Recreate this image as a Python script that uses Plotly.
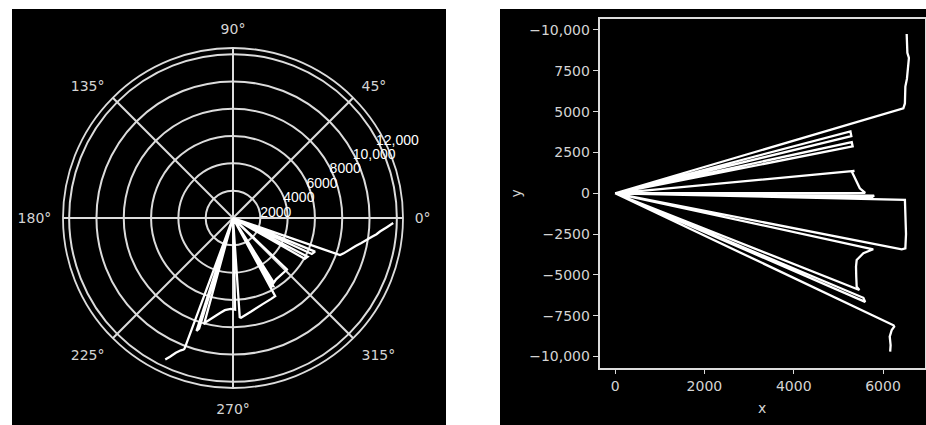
import numpy as np
import plotly.graph_objects as go

# Range-scan outline in the vehicle frame (x forward, y left); 0,0 entries are dropouts
scan_x = [6160, 6170, 6150, 6195, 6250, 6235, 0,
          5600, 5560, 0,
          5470, 5410, 5400, 5395, 5410, 5560, 5780, 0,
          6420, 6500, 6515, 6500, 6505, 6490, 0,
          5800, 5760, 0,
          5600, 5480, 5300, 5360, 0,
          5320, 5300, 0,
          5290, 5270, 0,
          6455, 6490, 6500, 6535, 6560, 6580, 6545, 6540, 6530]
scan_y = [-9700, -9300, -8780, -8370, -8170, -8080, 0,
          -6650, -6400, 0,
          -5920, -5720, -5100, -4490, -4085, -3675, -3430, 0,
          -3430, -3370, -2500, -1500, -800, -410, 0,
          -140, -220, 0,
          20, 300, 1330, 1370, 0,
          2870, 3130, 0,
          3500, 3790, 0,
          5205, 5500, 6530, 7000, 7900, 8285, 8600, 9200, 9755]

# Sensor bearing offset used for the polar view
SENSOR_YAW_DEG = -58

angle_ticks = [0, 45, 90, 135, 180, 225, 270, 315]
angle_labels = ["0°", "45°", "90°", "135°", "180°", "225°", "270°", "315°"]
radial_ticks = [2000, 4000, 6000, 8000, 10000, 12000]
radial_labels = ["2000", "4000", "6000", "8000", "10,000", "12,000"]
x_ticks = [0, 2000, 4000, 6000]
x_labels = ["0", "2000", "4000", "6000"]
y_ticks = [10000, 7500, 5000, 2500, 0, -2500, -5000, -7500, -10000]
y_labels = ["−10,000", "7500", "5000", "2500", "0", "−2500", "−5000", "−7500", "−10,000"]

xs = np.array(scan_x, dtype=float)
ys = np.array(scan_y, dtype=float)
rng = np.hypot(xs, ys)
bearing = np.degrees(np.arctan2(ys, xs)) + SENSOR_YAW_DEG

W, H = 926, 425
GRID = "#dcdcdc"
LABEL = "#d4d4d4"
RADIAL_ANGLE = 32

fig = go.Figure()
fig.add_trace(go.Scatterpolar(r=rng, theta=bearing, mode="lines",
                              line=dict(color="white", width=2.3),
                              showlegend=False, hoverinfo="skip"))
fig.add_trace(go.Scatter(x=xs, y=ys, mode="lines",
                         line=dict(color="white", width=2.3),
                         showlegend=False, hoverinfo="skip"))

fig.update_layout(
    width=W, height=H,
    margin=dict(l=0, r=0, t=0, b=0),
    paper_bgcolor="white",
    plot_bgcolor="black",
    font=dict(family="DejaVu Sans", size=14, color=LABEL),
    shapes=[
        dict(type="rect", xref="paper", yref="paper", layer="below",
             x0=12 / W, x1=446 / W, y0=0, y1=1 - 9 / H,
             fillcolor="black", line=dict(width=0)),
        dict(type="rect", xref="paper", yref="paper", layer="below",
             x0=500 / W, x1=1, y0=0, y1=1 - 9 / H,
             fillcolor="black", line=dict(width=0)),
    ],
    polar=dict(
        domain=dict(x=[63 / W, 403 / W], y=[1 - 388 / H, 1 - 48 / H]),
        bgcolor="black",
        angularaxis=dict(
            tickmode="array", tickvals=angle_ticks, ticktext=angle_labels,
            direction="counterclockwise", rotation=0,
            showgrid=True, gridcolor=GRID, gridwidth=1.6,
            showline=True, linecolor=GRID, linewidth=1.8,
            ticks="outside", ticklen=8, tickcolor="rgba(0,0,0,0)",
            tickfont=dict(family="DejaVu Sans", size=14, color=LABEL),
        ),
        radialaxis=dict(
            range=[0, 12450], angle=RADIAL_ANGLE, side="clockwise",
            tickangle=RADIAL_ANGLE,
            tickmode="array", tickvals=radial_ticks, ticktext=radial_labels,
            showgrid=True, gridcolor=GRID, gridwidth=1.6,
            showline=False, ticks="",
            tickfont=dict(family="Liberation Sans", size=14, color="white"),
        ),
    ),
    xaxis=dict(
        domain=[599.5 / W, 925 / W], range=[-350, 6940],
        tickmode="array", tickvals=x_ticks, ticktext=x_labels,
        showgrid=False, zeroline=False,
        showline=True, linecolor=GRID, linewidth=1.5, mirror=True,
        ticks="outside", ticklen=5, tickcolor=GRID,
        title=dict(text="x", standoff=10, font=dict(size=14, color=LABEL)),
    ),
    yaxis=dict(
        domain=[1 - 367.7 / H, 1 - 19 / H], range=[-10680, 10670],
        tickmode="array", tickvals=y_ticks, ticktext=y_labels,
        showgrid=False, zeroline=False,
        showline=True, linecolor=GRID, linewidth=1.5, mirror=True,
        ticks="outside", ticklen=5, tickcolor=GRID,
        title=dict(text="y", standoff=4, font=dict(size=14, color=LABEL)),
    ),
)

fig.write_html("out.html")
